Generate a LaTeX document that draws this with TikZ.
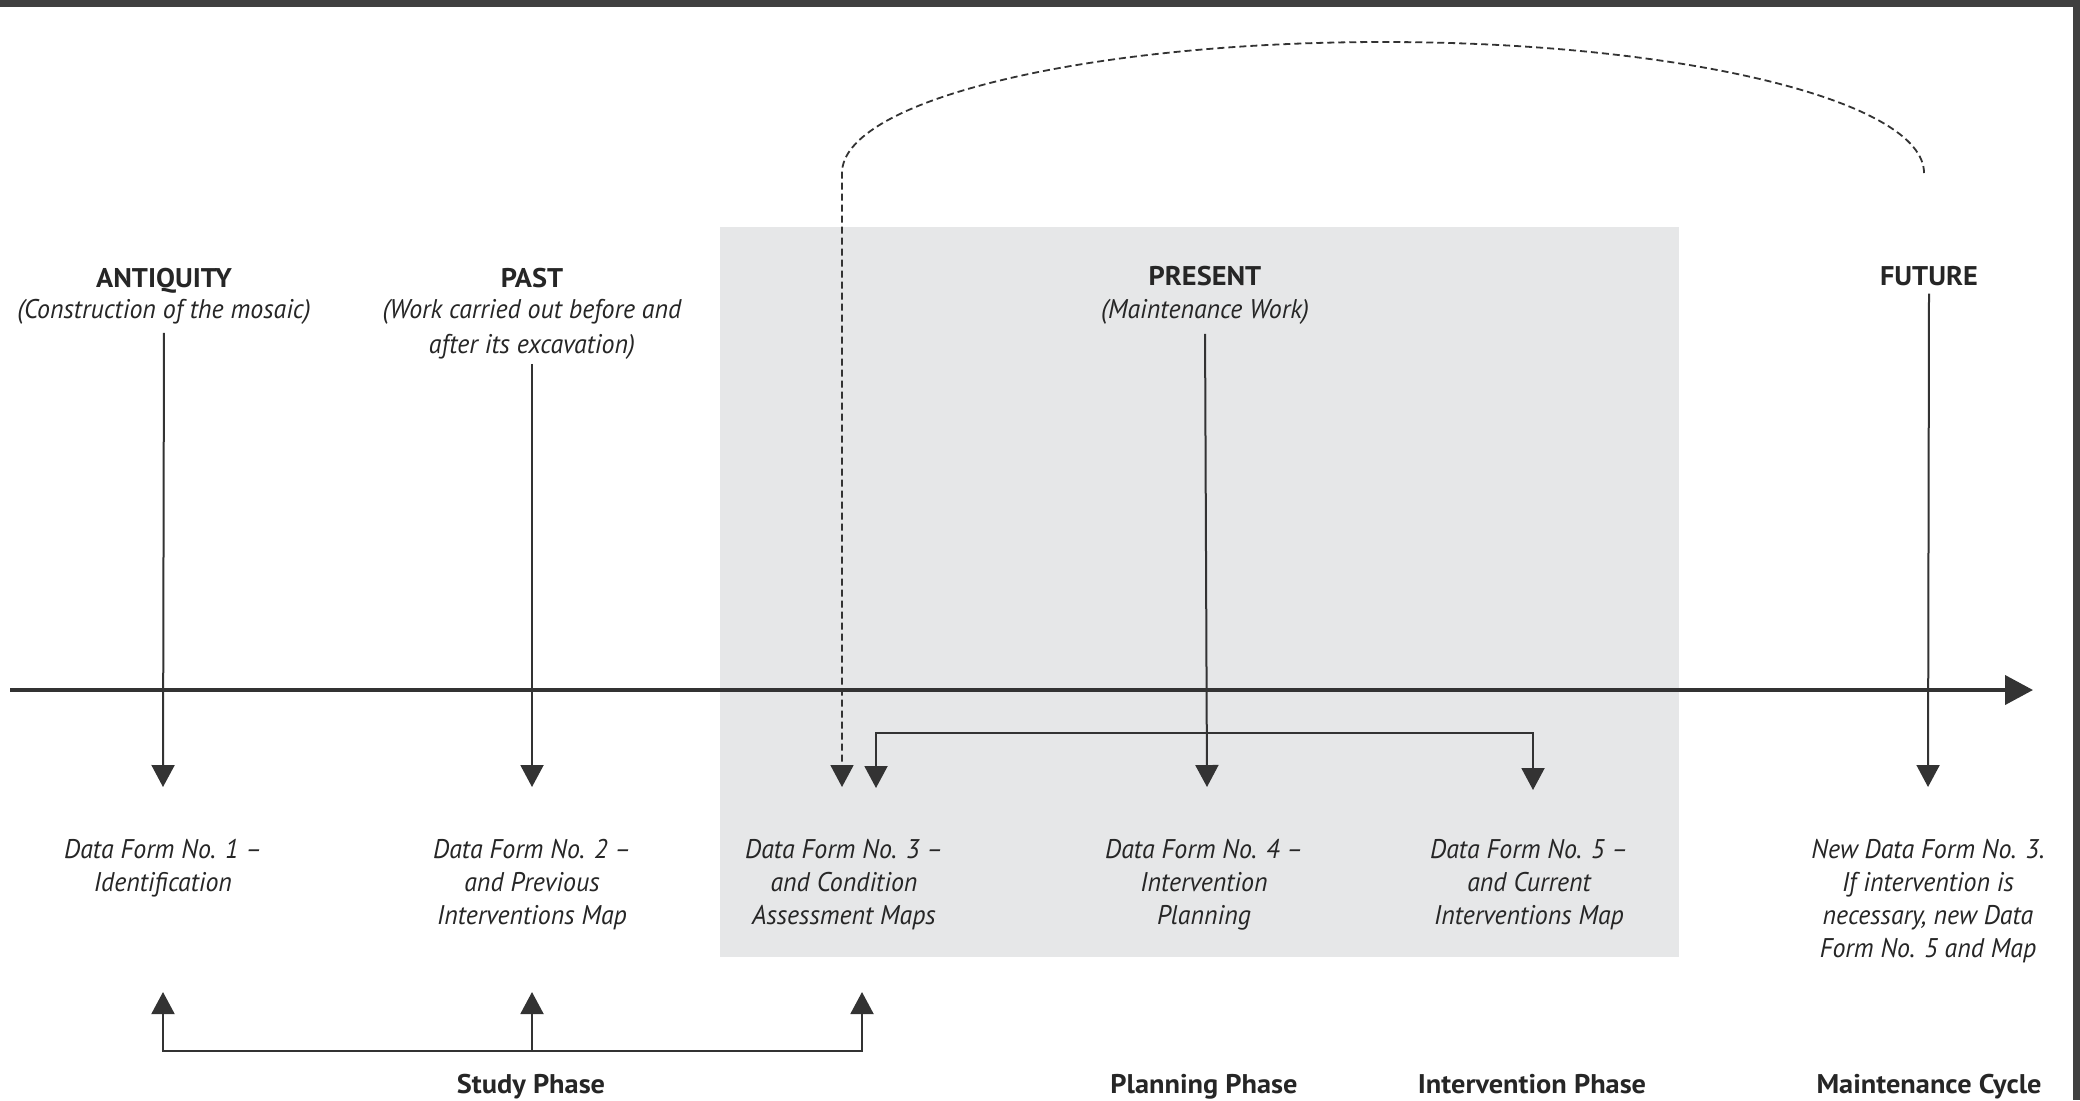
\documentclass[tikz,border=0pt]{standalone}
\usepackage{fontspec}
\setmainfont{PT Sans}[ItalicFeatures={FakeStretch=0.96}, BoldFeatures={FakeStretch=1.05}]
\usepackage{xcolor}
\usetikzlibrary{arrows.meta}

\definecolor{ink}{HTML}{333333}
\definecolor{textink}{HTML}{262626}
\definecolor{panel}{HTML}{E6E7E8}
\definecolor{framegray}{HTML}{404040}

\begin{document}
\begin{tikzpicture}[x=0.5pt,y=-0.5pt,
  every node/.style={inner sep=0pt, text=textink},
  era/.style={font=\fontsize{13.5}{17.5}\selectfont\bfseries, anchor=base},
  note/.style={font=\fontsize{13.5}{17.5}\selectfont\itshape, align=center, anchor=north},
  form/.style={font=\fontsize{13.5}{16.5}\selectfont\itshape, align=center, anchor=north},
  phase/.style={font=\fontsize{13.5}{16.5}\selectfont\bfseries, anchor=base},
  vline/.style={draw=ink, line width=1pt, -{Triangle[length=11pt,width=11.5pt]}},
  dashline/.style={draw=ink, line width=0.9pt, dash pattern=on 3.5pt off 2pt, -{Triangle[length=11pt,width=11.5pt]}}
  ]
  \useasboundingbox (0,0) rectangle (2080,1100);

  % frame and present panel
  \fill[framegray] (0,0) rectangle (2080,7);
  \fill[framegray] (2073,0) rectangle (2080,1100);
  \fill[panel] (720,227) rectangle (1679,957);

  % Text Node: eras
  \node[era] (antiq) at (164,287) {ANTIQUITY};
  \node[note] (antiqnote) at (164,299) {(Construction of the mosaic)};
  \node[era] (past) at (532,287) {PAST};
  \node[note] (pastnote) at (532,299) {(Work carried out before and\\after its excavation)};
  \node[era] (present) at (1205,285) {PRESENT};
  \node[note] (presentnote) at (1205,299) {(Maintenance Work)};
  \node[era] (future) at (1929,285) {FUTURE};

  % Text Node: data forms
  \node[form] (df1) at (163,839) {Data Form No. 1 –\\Identification};
  \node[form] (df2) at (532,839) {Data Form No. 2 –\\and Previous\\Interventions Map};
  \node[form] (df3) at (844,839) {Data Form No. 3 –\\and Condition\\Assessment Maps};
  \node[form] (df4) at (1204,839) {Data Form No. 4 –\\Intervention\\Planning};
  \node[form] (df5) at (1529,839) {Data Form No. 5 –\\and Current\\Interventions Map};
  \node[form] (df6) at (1928,839) {New Data Form No. 3.\\If intervention is\\necessary, new Data\\Form No. 5 and Map};

  % Text Node: phases
  \node[phase] (studyph) at (531,1093) {Study Phase};
  \node[phase] (planph) at (1204,1093) {Planning Phase};
  \node[phase] (intph) at (1532,1093) {Intervention Phase};
  \node[phase] (maintph) at (1929,1093) {Maintenance Cycle};

  % arrow tips and corners
  \coordinate (tip1) at (163,787);
  \coordinate (tip2) at (532,787);
  \coordinate (tip3a) at (842,787);
  \coordinate (tip3b) at (876,788);
  \coordinate (tip4) at (1207,787);
  \coordinate (tip5) at (1533,790);
  \coordinate (tip6) at (1928,787);
  \coordinate (link) at (1207,733);
  \coordinate (loopend) at (1924,173);
  \coordinate (study) at (532,1051);
  \coordinate (up1) at (163,992);
  \coordinate (up2) at (532,992);
  \coordinate (up3) at (862,992);
  \coordinate (axisstart) at (10,690);
  \coordinate (axisend) at (2033,690);

  % time axis
  \draw[ink, line width=2pt, -{Triangle[length=14pt,width=14.5pt]}] (axisstart) -- (axisend);

  % Straight Lines: eras to forms
  \draw[vline, shorten <=4pt] (antiqnote.south) -- (tip1);
  \draw[vline, shorten <=2pt] (pastnote.south) -- (tip2);
  \draw[vline, shorten <=4.5pt] (presentnote.south) -- (tip4);
  \draw[vline, shorten <=4pt] (future.south) -- (tip6);

  % maintenance loop back to form 3
  \draw[dashline] (loopend) arc[start angle=0, end angle=180, x radius=270.5pt, y radius=65.5pt] -- (tip3a);

  % link between forms 3 and 5
  \draw[vline, {Triangle[length=11pt,width=11.5pt]}-{Triangle[length=11pt,width=11.5pt]}] (tip3b) |- (link) -| (tip5);

  % study phase bracket
  \draw[vline] (study) -| (up1);
  \draw[vline] (study) -- (up2);
  \draw[vline] (study) -| (up3);
\end{tikzpicture}
\end{document}
